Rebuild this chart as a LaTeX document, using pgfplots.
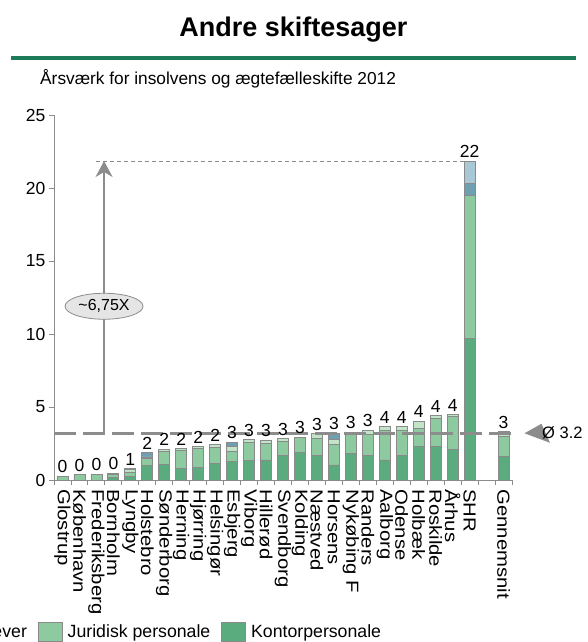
\documentclass[border=0pt]{standalone}
\usepackage{fontspec}
\setmainfont{Liberation Sans}
\usepackage{pgfplots}
\pgfplotsset{compat=1.18}
\usepackage{pgfplotstable}
\usetikzlibrary{shapes.geometric,arrows.meta}

\definecolor{kontor}{HTML}{5AAC7E}
\definecolor{juridisk}{HTML}{8DCAA0}
\definecolor{elever}{HTML}{C2E5C9}
\definecolor{blaa}{HTML}{6FA0B2}
\definecolor{lysblaa}{HTML}{A9C8D5}
\definecolor{kant}{HTML}{8A8A8A}
\definecolor{linjegraa}{HTML}{8C8C8C}
\definecolor{rulegreen}{HTML}{1E7B5A}

% Årsværk per ret: K = kontorpersonale, J = juridisk personale,
% E = elever, B og L = øvrige grupper
\pgfplotstableread{
x  K     J     E     B     L
0  0.00  0.25  0.00  0.00  0.00
1  0.00  0.35  0.00  0.00  0.00
2  0.00  0.40  0.00  0.00  0.00
3  0.15  0.25  0.06  0.00  0.00
4  0.25  0.30  0.15  0.10  0.00
5  0.98  0.50  0.10  0.32  0.00
6  1.07  0.91  0.14  0.00  0.00
7  0.80  1.26  0.09  0.00  0.00
8  0.87  1.30  0.13  0.00  0.00
9  1.14  1.10  0.18  0.00  0.00
10 1.26  0.73  0.30  0.30  0.00
11 1.32  1.26  0.18  0.00  0.00
12 1.37  1.14  0.23  0.00  0.00
13 1.71  0.96  0.18  0.00  0.00
14 1.87  1.07  0.00  0.00  0.00
15 1.71  1.14  0.34  0.00  0.00
16 1.03  1.42  0.34  0.41  0.00
17 1.83  1.40  0.05  0.00  0.00
18 1.71  1.39  0.30  0.00  0.00
19 1.37  2.05  0.23  0.00  0.00
20 1.71  1.71  0.23  0.00  0.00
21 2.28  1.26  0.50  0.00  0.00
22 2.28  1.92  0.22  0.00  0.00
23 2.10  2.23  0.13  0.00  0.00
24 9.70  9.80  0.00  0.80  1.55
26 1.60  1.37  0.25  0.09  0.00
}\aarsvaerk

\begin{document}
\begin{tikzpicture}[x=1pt,y=1pt]
% overskrift
\node[font=\fontsize{27}{32}\selectfont\bfseries, anchor=base] at (293.5,605) {Andre skiftesager};
\draw[line width=4pt, rulegreen] (11,584) -- (576,584);
\node[font=\fontsize{17.3}{20}\selectfont, anchor=base west, inner sep=0pt] at (40,557) {Årsværk for insolvens og ægtefælleskifte 2012};

\begin{axis}[
  at={(54pt,162pt)}, anchor=south west,
  scale only axis, width=458pt, height=365pt,
  ybar stacked, bar width=11pt,
  xmin=-0.5, xmax=26.5, ymin=0, ymax=25,
  axis lines*=left,
  axis line style={linjegraa, line width=0.9pt},
  tick align=outside,
  major tick length=5pt, minor tick length=5pt,
  tick style={linjegraa, line width=0.9pt},
  ytick={0,5,...,25},
  xtick={0,...,26},
  major x tick style={draw=none},
  minor xtick={-0.5,0.5,...,26.5},
  xticklabels={Glostrup,København,Frederiksberg,Bornholm,Lyngby,Holstebro,Sønderborg,Herning,Hjørring,Helsingør,Esbjerg,Viborg,Hillerød,Svendborg,Kolding,Næstved,Horsens,Nykøbing F,Randers,Aalborg,Odense,Holbæk,Roskilde,Århus,SHR,{},Gennemsnit},
  xticklabel style={yscale=1.16, rotate=-90, anchor=west, inner sep=1pt, font=\fontsize{17.5}{19}\selectfont},
  xticklabel shift=3pt,
  yticklabel style={font=\fontsize{17.5}{19}\selectfont},
  /pgf/number format/assume math mode=true,
  every axis plot/.append style={draw=kant, line width=0.8pt},
  legend columns=-1,
  reverse legend,
  legend image code/.code={\draw[#1, draw=kant] (0pt,-9.5pt) rectangle (24pt,9.5pt);},
  legend style={draw=none, fill=none, at={(0.7255,-0.4164)}, anchor=east,
    font=\fontsize{17.7}{19}\selectfont,
    /tikz/every even column/.append style={column sep=9pt},
    /tikz/every odd column/.append style={column sep=3pt}},
]
\addplot[fill=kontor] table[x=x, y=K] {\aarsvaerk};
\addlegendentry{Kontorpersonale}
\addplot[fill=juridisk] table[x=x, y=J] {\aarsvaerk};
\addlegendentry{Juridisk personale}
\addplot[fill=elever] table[x=x, y=E] {\aarsvaerk};
\addlegendentry{Elever}
\addplot[fill=blaa] table[x=x, y=B] {\aarsvaerk};
\addlegendentry{Dommere}
\addplot[fill=lysblaa] table[x=x, y=L] {\aarsvaerk};
\addlegendentry{Ledelse}
\end{axis}

\begin{axis}[
  at={(54pt,162pt)}, anchor=south west,
  scale only axis, width=458pt, height=365pt,
  xmin=-0.5, xmax=26.5, ymin=0, ymax=25,
  hide axis, clip=false,
  /pgf/number format/assume math mode=true,
]
% samlet antal årsværk over hver søjle
\addplot[draw=none, mark=none,
  nodes near coords={\pgfmathprintnumber[fixed,precision=0]{\pgfplotspointmeta}},
  point meta=y,
  nodes near coords style={font=\fontsize{17.5}{19}\selectfont, text=black, anchor=south, inner sep=3pt}]
  table[x=x, y expr=\thisrow{K}+\thisrow{J}+\thisrow{E}+\thisrow{B}+\thisrow{L}] {\aarsvaerk};
% landsgennemsnit
\addplot[linjegraa, line width=3pt, dash pattern=on 22pt off 7pt] coordinates {(-0.5,3.2) (26.5,3.2)};
% SHR's niveau
\addplot[linjegraa, line width=0.9pt, dash pattern=on 4pt off 3pt] coordinates {(2.0,21.85) (23.68,21.85)};
\addplot[linjegraa, line width=1.4pt, -{Stealth[length=16pt, width=17pt, inset=5pt]}] coordinates {(2.45,3.2) (2.45,21.85)};
\node[ellipse, draw=linjegraa, fill=black!10, line width=0.8pt, minimum width=78pt, minimum height=26pt, inner sep=0pt,
  font=\fontsize{16}{18}\selectfont] at (axis cs:2.45,11.9) {\textasciitilde 6,75X};
\fill[linjegraa] (axis cs:26.5,3.2) ++(4pt,0) -- ++(17pt,9.5pt) -- ++(0,-19pt) -- cycle;
\node[anchor=west, inner sep=0pt, font=\fontsize{16.5}{19}\selectfont] at (axis cs:26.5,3.2) [xshift=30pt] {Ø 3.2};
\end{axis}

\pgfresetboundingbox
\path[use as bounding box] (0,0) rectangle (587,642);
\end{tikzpicture}
\end{document}
